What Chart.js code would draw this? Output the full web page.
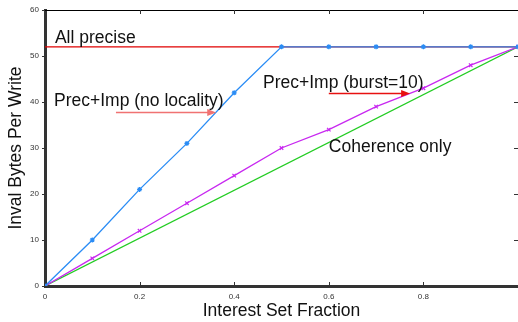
<!DOCTYPE html>
<html>
<head>
<meta charset="utf-8">
<script src="https://cdn.jsdelivr.net/npm/chart.js@4"></script>
<style>
  html, body { margin: 0; padding: 0; background: #fff; overflow: hidden; }
  #wrap { width: 518px; height: 322px; }
</style>
</head>
<body>
<div id="wrap"><canvas id="chart" width="518" height="322"></canvas></div>
<script>
// data
const fractions = [0, 0.1, 0.2, 0.3, 0.4, 0.5, 0.6, 0.7, 0.8, 0.9, 1];
const noLocality = [0, 10, 21, 31, 42, 52, 52, 52, 52, 52, 52];
const burst10 = [0, 6, 12, 18, 24, 30, 34, 39, 43, 48, 52];
const coherenceX = [0, 1];
const coherenceY = [0, 52];
const allPreciseX = [0, 1];
const allPreciseY = [52, 52];
const xTicks = [0, 0.2, 0.4, 0.6, 0.8];
const yTicks = [0, 10, 20, 30, 40, 50, 60];

const FONT = "'Liberation Sans', Arial, Helvetica, sans-serif";

const toPoints = (xs, ys) => xs.map((x, i) => ({ x: x, y: ys[i] }));

// text labels + arrows, placed in data coordinates
const notes = [
  { text: "All precise", x: 0.021, y: 53.9 },
  { text: "Prec+Imp (no locality)", x: 0.019, y: 40.2 },
  { text: "Prec+Imp (burst=10)", x: 0.461, y: 44.1 },
  { text: "Coherence only", x: 0.6, y: 30.2 }
];
const arrows = [
  { x0: 0.150, x1: 0.362, y: 37.8, color: "#f07272" },
  { x0: 0.600, x1: 0.772, y: 42.0, color: "#e81010" }
];

const decorations = {
  id: "decorations",
  afterDraw(chart) {
    const { ctx, chartArea: a, scales } = chart;
    const xs = scales.x, ys = scales.y;
    ctx.save();
    // thin frame on top
    ctx.strokeStyle = "#000";
    ctx.lineWidth = 1;
    ctx.beginPath();
    ctx.moveTo(a.left, a.top + 0.5);
    ctx.lineTo(a.right, a.top + 0.5);
    ctx.stroke();

    // tick marks
    ctx.strokeStyle = "#333";
    ctx.lineWidth = 1;
    ctx.beginPath();
    xTicks.forEach(v => {
      if (v === 0) return;
      const px = Math.round(xs.getPixelForValue(v)) + 0.5;
      ctx.moveTo(px, a.top); ctx.lineTo(px, a.top + 4);
      ctx.moveTo(px, a.bottom); ctx.lineTo(px, a.bottom - 4);
    });
    yTicks.forEach(v => {
      const py = Math.round(ys.getPixelForValue(v)) + 0.5;
      ctx.moveTo(a.left - 3, py); ctx.lineTo(a.left, py);
      if (v > 0 && v < 60) { ctx.moveTo(a.right - 4, py); ctx.lineTo(a.right, py); }
    });
    ctx.stroke();
    ctx.restore();
  },
  afterDatasetsDraw(chart) {
    const { ctx, scales } = chart;
    const xs = scales.x, ys = scales.y;
    ctx.save();
    ctx.font = "17.5px " + FONT;
    ctx.fillStyle = "#111";
    ctx.textBaseline = "middle";
    ctx.textAlign = "left";
    notes.forEach(n => ctx.fillText(n.text, xs.getPixelForValue(n.x), ys.getPixelForValue(n.y)));
    arrows.forEach(ar => {
      const x0 = xs.getPixelForValue(ar.x0);
      const x1 = xs.getPixelForValue(ar.x1);
      const y = Math.round(ys.getPixelForValue(ar.y)) + 0.5;
      ctx.strokeStyle = ar.color;
      ctx.fillStyle = ar.color;
      ctx.lineWidth = 1.5;
      ctx.beginPath();
      ctx.moveTo(x0, y); ctx.lineTo(x1 - 6, y);
      ctx.stroke();
      ctx.beginPath();
      ctx.moveTo(x1, y); ctx.lineTo(x1 - 9, y - 3.5); ctx.lineTo(x1 - 9, y + 3.5);
      ctx.closePath();
      ctx.fill();
    });
    ctx.restore();
  }
};

new Chart(document.getElementById("chart"), {
  type: "line",
  data: {
    datasets: [
      {
        label: "Prec+Imp (no locality)",
        data: toPoints(fractions, noLocality),
        borderColor: "#2a8cf5",
        backgroundColor: "#2a8cf5",
        borderWidth: 1.3,
        pointStyle: "star",
        pointRadius: 2.5,
        pointBorderWidth: 1.2,
        order: 1
      },
      {
        label: "Prec+Imp (burst=10)",
        data: toPoints(fractions, burst10),
        borderColor: "#c828f0",
        backgroundColor: "#c828f0",
        borderWidth: 1.3,
        pointStyle: "crossRot",
        pointRadius: 2.5,
        pointBorderWidth: 1.2,
        order: 2
      },
      {
        label: "Coherence only",
        data: toPoints(coherenceX, coherenceY),
        borderColor: "#22cc22",
        borderWidth: 1.2,
        pointRadius: 0,
        order: 3
      },
      {
        label: "All precise",
        data: toPoints(allPreciseX, allPreciseY),
        borderColor: "#e00000",
        borderWidth: 1.2,
        pointRadius: 0,
        order: 4
      }
    ]
  },
  options: {
    responsive: false,
    animation: false,
    devicePixelRatio: 1,
    layout: { autoPadding: false, padding: { top: 10, right: 0, left: 0, bottom: 0 } },
    plugins: {
      legend: { display: false },
      tooltip: { enabled: false }
    },
    elements: { line: { tension: 0 } },
    scales: {
      x: {
        type: "linear",
        min: 0,
        max: 1,
        afterFit: s => { s.height = 36; s.paddingRight = 0; s.paddingLeft = 0; },
        afterBuildTicks: s => { s.ticks = xTicks.map(v => ({ value: v })); },
        ticks: {
          color: "#333",
          font: { size: 8, family: FONT },
          padding: 6,
          maxRotation: 0,
          callback: v => String(Math.round(v * 10) / 10)
        },
        grid: { drawOnChartArea: false, drawTicks: false },
        border: { color: "#333", width: 3 },
        title: {
          display: true,
          text: "Interest Set Fraction",
          color: "#111",
          font: { size: 17.5, family: FONT },
          padding: { top: 1, bottom: 0 }
        }
      },
      y: {
        min: 0,
        max: 60,
        afterFit: s => { s.width = 45; s.paddingTop = 0; s.paddingBottom = 0; },
        afterBuildTicks: s => { s.ticks = yTicks.map(v => ({ value: v })); },
        ticks: {
          color: "#333",
          font: { size: 8, family: FONT },
          padding: 6
        },
        grid: { drawOnChartArea: false, drawTicks: false },
        border: { color: "#333", width: 3 },
        title: {
          display: true,
          text: "Inval Bytes Per Write",
          color: "#111",
          font: { size: 17.5, family: FONT },
          padding: { top: 6, bottom: 0 }
        }
      }
    }
  },
  plugins: [decorations]
});
</script>
</body>
</html>
